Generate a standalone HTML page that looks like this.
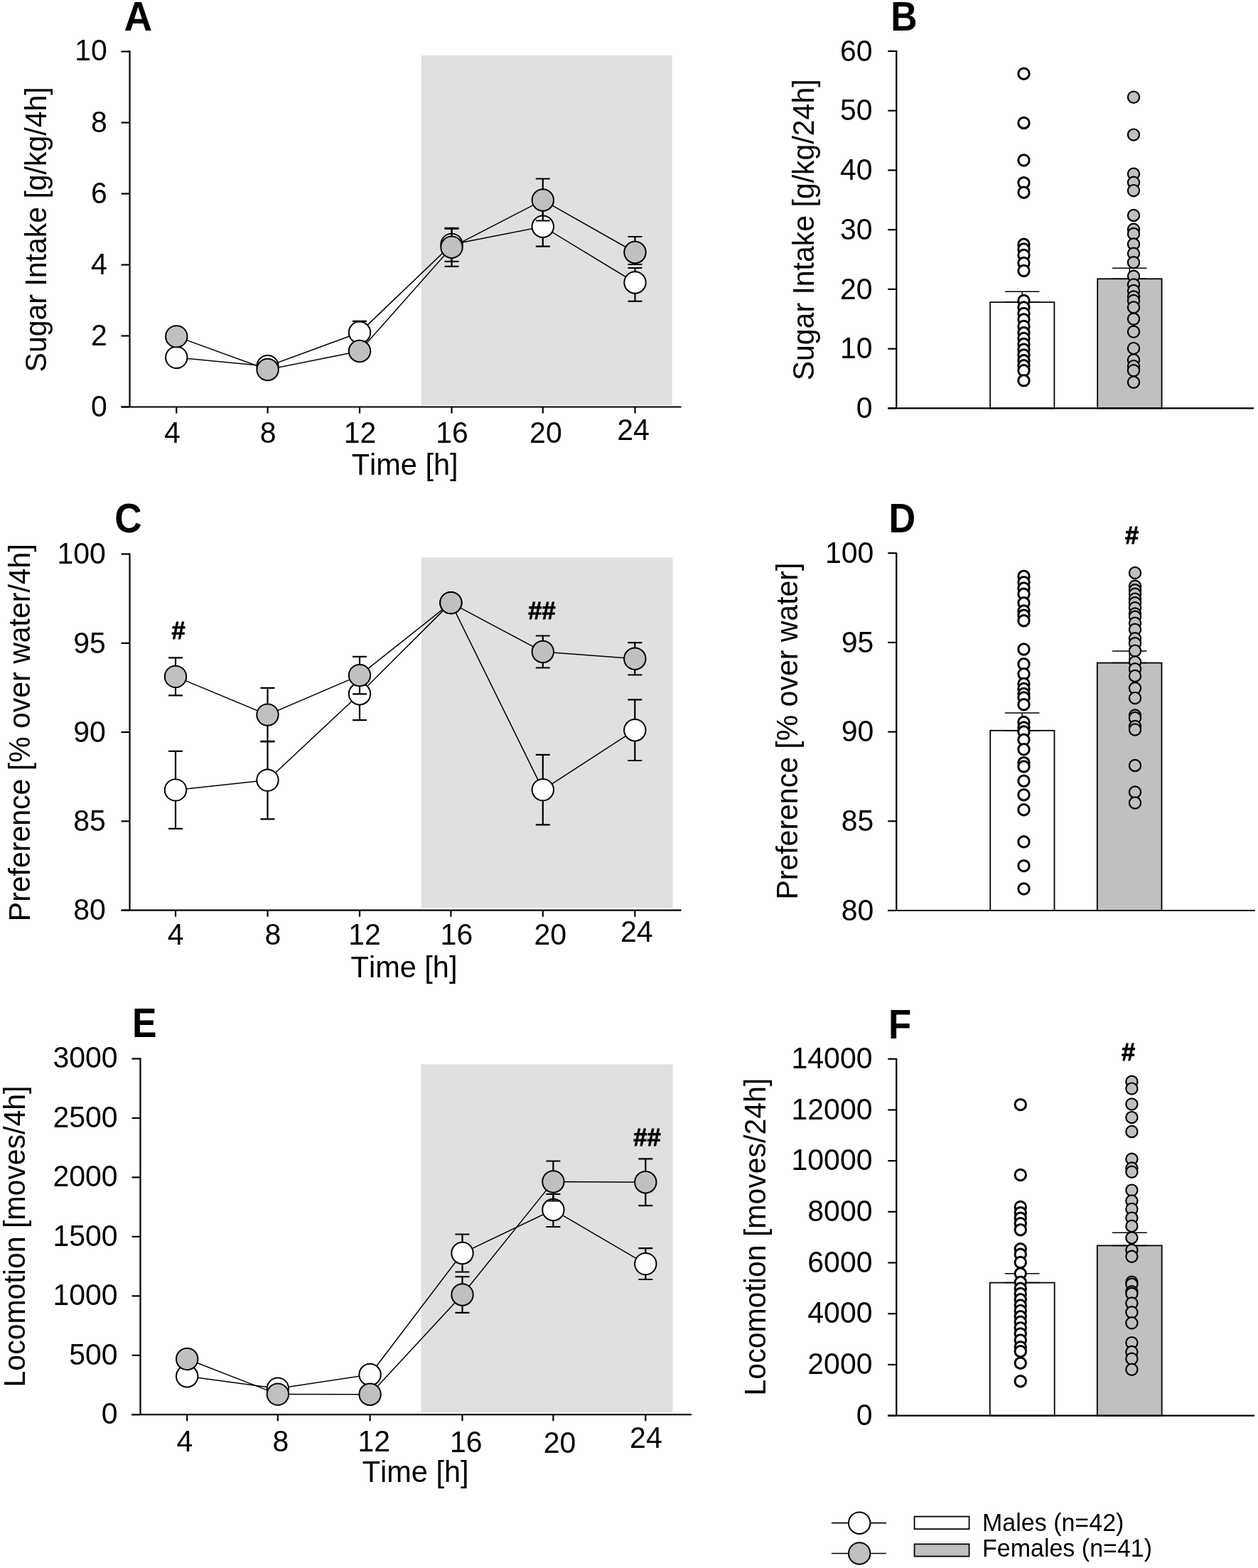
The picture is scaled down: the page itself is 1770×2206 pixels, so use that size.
<!DOCTYPE html><html><head><meta charset="utf-8"><title>Figure</title><style>html,body{margin:0;padding:0;background:#fff;}svg{display:block;}text{font-kerning:none;stroke:none;}</style></head><body>
<svg width="1770" height="2206" viewBox="0 0 1770 2206" font-family="'Liberation Sans', Arial, sans-serif" stroke="#000" fill="#000">
<rect x="0" y="0" width="1770" height="2206" fill="#fff" stroke="none"/>
<g id="A">
<rect x="593" y="78" width="352.5" height="492" fill="#e0e0e0" stroke="none"/>
<line x1="182.5" y1="71.0" x2="182.5" y2="572.5" stroke-width="2.2"/>
<line x1="170.5" y1="572.5" x2="182.5" y2="572.5" stroke-width="2.2"/>
<text x="150.9" y="586.2" font-size="42.68" text-anchor="end" textLength="22.80" lengthAdjust="spacingAndGlyphs">0</text>
<line x1="170.5" y1="472.5" x2="182.5" y2="472.5" stroke-width="2.2"/>
<text x="150.9" y="486.2" font-size="42.68" text-anchor="end" textLength="22.80" lengthAdjust="spacingAndGlyphs">2</text>
<line x1="170.5" y1="372.5" x2="182.5" y2="372.5" stroke-width="2.2"/>
<text x="150.9" y="386.2" font-size="42.68" text-anchor="end" textLength="22.80" lengthAdjust="spacingAndGlyphs">4</text>
<line x1="170.5" y1="272.5" x2="182.5" y2="272.5" stroke-width="2.2"/>
<text x="150.9" y="286.2" font-size="42.68" text-anchor="end" textLength="22.80" lengthAdjust="spacingAndGlyphs">6</text>
<line x1="170.5" y1="172.5" x2="182.5" y2="172.5" stroke-width="2.2"/>
<text x="150.9" y="186.2" font-size="42.68" text-anchor="end" textLength="22.80" lengthAdjust="spacingAndGlyphs">8</text>
<line x1="170.5" y1="72.5" x2="182.5" y2="72.5" stroke-width="2.2"/>
<text x="150.9" y="84.5" font-size="42.68" text-anchor="end" textLength="45.60" lengthAdjust="spacingAndGlyphs">10</text>
<line x1="170.5" y1="572.5" x2="958.5" y2="572.5" stroke-width="2.2"/>
<line x1="248.3" y1="572.5" x2="248.3" y2="581.5" stroke-width="2.2"/>
<line x1="376.6" y1="572.5" x2="376.6" y2="581.5" stroke-width="2.2"/>
<line x1="506.0" y1="572.5" x2="506.0" y2="581.5" stroke-width="2.2"/>
<line x1="635.5" y1="572.5" x2="635.5" y2="581.5" stroke-width="2.2"/>
<line x1="763.8" y1="572.5" x2="763.8" y2="581.5" stroke-width="2.2"/>
<line x1="893.5" y1="572.5" x2="893.5" y2="581.5" stroke-width="2.2"/>
<text x="242.4" y="623.4" font-size="42.68" text-anchor="middle" textLength="22.80" lengthAdjust="spacingAndGlyphs">4</text>
<text x="377.1" y="623.4" font-size="42.68" text-anchor="middle" textLength="22.80" lengthAdjust="spacingAndGlyphs">8</text>
<text x="506.6" y="623.4" font-size="42.68" text-anchor="middle" textLength="45.60" lengthAdjust="spacingAndGlyphs">12</text>
<text x="636.1" y="623.4" font-size="42.68" text-anchor="middle" textLength="45.60" lengthAdjust="spacingAndGlyphs">16</text>
<text x="767.9" y="623.4" font-size="42.68" text-anchor="middle" textLength="45.60" lengthAdjust="spacingAndGlyphs">20</text>
<text x="891.0" y="618.9" font-size="42.68" text-anchor="middle" textLength="45.60" lengthAdjust="spacingAndGlyphs">24</text>
<text x="494.7" y="667.5" font-size="42.68" text-anchor="start" textLength="149.86" lengthAdjust="spacingAndGlyphs">Time [h]</text>
<text x="174.5" y="43.2" font-size="57.25" text-anchor="start" font-weight="bold" textLength="39.72" lengthAdjust="spacingAndGlyphs">A</text>
<text x="0" y="0" transform="translate(65.4,322.9) rotate(-90)" font-size="42.68" text-anchor="middle" textLength="401.15" lengthAdjust="spacingAndGlyphs">Sugar Intake [g/kg/4h]</text>
<polyline points="248.3,502.9 376.6,515.3 506.0,467.8 635.5,343.9 763.8,318.7 893.5,397.5" fill="none" stroke-width="1.5"/>
<path d="M506.0 451.8V483.8M496.0 451.8h20M496.0 483.8h20" stroke-width="2.2" fill="none"/>
<path d="M635.5 321.9V367.9M625.5 321.9h20M625.5 367.9h20" stroke-width="2.2" fill="none"/>
<path d="M763.8 290.7V346.7M753.8 290.7h20M753.8 346.7h20" stroke-width="2.2" fill="none"/>
<path d="M893.5 377.0V423.8M883.5 377.0h20M883.5 423.8h20" stroke-width="2.2" fill="none"/>
<circle cx="248.3" cy="502.9" r="15.2" fill="#fff" stroke-width="2"/>
<circle cx="376.6" cy="515.3" r="15.2" fill="#fff" stroke-width="2"/>
<circle cx="506.0" cy="467.8" r="15.2" fill="#fff" stroke-width="2"/>
<circle cx="635.5" cy="343.9" r="15.2" fill="#fff" stroke-width="2"/>
<circle cx="763.8" cy="318.7" r="15.2" fill="#fff" stroke-width="2"/>
<circle cx="893.5" cy="397.5" r="15.2" fill="#fff" stroke-width="2"/>
<polyline points="248.3,473.4 376.6,520.0 506.0,494.0 635.5,347.8 763.8,281.5 893.5,355.0" fill="none" stroke-width="1.5"/>
<path d="M635.5 320.8V374.8M625.5 320.8h20M625.5 374.8h20" stroke-width="2.2" fill="none"/>
<path d="M763.8 251.5V310.5M753.8 251.5h20M753.8 310.5h20" stroke-width="2.2" fill="none"/>
<path d="M893.5 333.0V372.0M883.5 333.0h20M883.5 372.0h20" stroke-width="2.2" fill="none"/>
<circle cx="248.3" cy="473.4" r="15.2" fill="#c0c0c0" stroke-width="2"/>
<circle cx="376.6" cy="520.0" r="15.2" fill="#c0c0c0" stroke-width="2"/>
<circle cx="506.0" cy="494.0" r="15.2" fill="#c0c0c0" stroke-width="2"/>
<circle cx="635.5" cy="347.8" r="15.2" fill="#c0c0c0" stroke-width="2"/>
<circle cx="763.8" cy="281.5" r="15.2" fill="#c0c0c0" stroke-width="2"/>
<circle cx="893.5" cy="355.0" r="15.2" fill="#c0c0c0" stroke-width="2"/>
</g>
<g id="B">
<rect x="1393.2" y="425.2" width="90.2" height="149.2" fill="#fff" stroke-width="1.8"/>
<rect x="1544.2" y="392.3" width="90.4" height="182.1" fill="#c0c0c0" stroke-width="1.8"/>
<path d="M1438.3 410.2V425.2M1414.0 410.2h48.5M1414.0 425.2h48.5" stroke-width="1.5" fill="none"/>
<path d="M1589.3 377.3V392.3M1565.0 377.3h48.5M1565.0 392.3h48.5" stroke-width="1.5" fill="none"/>
<line x1="1261.3" y1="71.0" x2="1261.3" y2="574.4" stroke-width="2.2"/>
<line x1="1249.3" y1="574.4" x2="1261.3" y2="574.4" stroke-width="2.2"/>
<text x="1227.6" y="588.1" font-size="42.68" text-anchor="end" textLength="22.80" lengthAdjust="spacingAndGlyphs">0</text>
<line x1="1249.3" y1="490.7" x2="1261.3" y2="490.7" stroke-width="2.2"/>
<text x="1227.6" y="504.4" font-size="42.68" text-anchor="end" textLength="45.60" lengthAdjust="spacingAndGlyphs">10</text>
<line x1="1249.3" y1="406.9" x2="1261.3" y2="406.9" stroke-width="2.2"/>
<text x="1227.6" y="420.6" font-size="42.68" text-anchor="end" textLength="45.60" lengthAdjust="spacingAndGlyphs">20</text>
<line x1="1249.3" y1="323.2" x2="1261.3" y2="323.2" stroke-width="2.2"/>
<text x="1227.6" y="336.9" font-size="42.68" text-anchor="end" textLength="45.60" lengthAdjust="spacingAndGlyphs">30</text>
<line x1="1249.3" y1="239.5" x2="1261.3" y2="239.5" stroke-width="2.2"/>
<text x="1227.6" y="253.2" font-size="42.68" text-anchor="end" textLength="45.60" lengthAdjust="spacingAndGlyphs">40</text>
<line x1="1249.3" y1="155.7" x2="1261.3" y2="155.7" stroke-width="2.2"/>
<text x="1227.6" y="169.4" font-size="42.68" text-anchor="end" textLength="45.60" lengthAdjust="spacingAndGlyphs">50</text>
<line x1="1249.3" y1="72.0" x2="1261.3" y2="72.0" stroke-width="2.2"/>
<text x="1227.6" y="85.7" font-size="42.68" text-anchor="end" textLength="45.60" lengthAdjust="spacingAndGlyphs">60</text>
<line x1="1249.3" y1="574.4" x2="1764.0" y2="574.4" stroke-width="2.2"/>
<text x="1253.3" y="43.0" font-size="57.25" text-anchor="start" font-weight="bold" textLength="37.34" lengthAdjust="spacingAndGlyphs">B</text>
<text x="0" y="0" transform="translate(1145.3,323.4) rotate(-90)" font-size="42.68" text-anchor="middle" textLength="423.95" lengthAdjust="spacingAndGlyphs">Sugar Intake [g/kg/24h]</text>
<circle cx="1440.5" cy="103.7" r="7.699999999999999" fill="#fff" stroke-width="3"/>
<circle cx="1440.5" cy="172.9" r="7.699999999999999" fill="#fff" stroke-width="3"/>
<circle cx="1440.5" cy="225.5" r="7.699999999999999" fill="#fff" stroke-width="3"/>
<circle cx="1440.5" cy="257.1" r="7.699999999999999" fill="#fff" stroke-width="3"/>
<circle cx="1440.5" cy="270.7" r="7.699999999999999" fill="#fff" stroke-width="3"/>
<circle cx="1440.5" cy="343.8" r="7.699999999999999" fill="#fff" stroke-width="3"/>
<circle cx="1440.5" cy="350.4" r="7.699999999999999" fill="#fff" stroke-width="3"/>
<circle cx="1440.5" cy="359.0" r="7.699999999999999" fill="#fff" stroke-width="3"/>
<circle cx="1440.5" cy="370.0" r="7.699999999999999" fill="#fff" stroke-width="3"/>
<circle cx="1440.5" cy="380.9" r="7.699999999999999" fill="#fff" stroke-width="3"/>
<circle cx="1440.5" cy="423.0" r="7.699999999999999" fill="#fff" stroke-width="3"/>
<circle cx="1440.5" cy="432.4" r="7.699999999999999" fill="#fff" stroke-width="3"/>
<circle cx="1440.5" cy="441.0" r="7.699999999999999" fill="#fff" stroke-width="3"/>
<circle cx="1440.5" cy="449.5" r="7.699999999999999" fill="#fff" stroke-width="3"/>
<circle cx="1440.5" cy="458.9" r="7.699999999999999" fill="#fff" stroke-width="3"/>
<circle cx="1440.5" cy="468.3" r="7.699999999999999" fill="#fff" stroke-width="3"/>
<circle cx="1440.5" cy="476.0" r="7.699999999999999" fill="#fff" stroke-width="3"/>
<circle cx="1440.5" cy="483.9" r="7.699999999999999" fill="#fff" stroke-width="3"/>
<circle cx="1440.5" cy="491.7" r="7.699999999999999" fill="#fff" stroke-width="3"/>
<circle cx="1440.5" cy="499.5" r="7.699999999999999" fill="#fff" stroke-width="3"/>
<circle cx="1440.5" cy="507.3" r="7.699999999999999" fill="#fff" stroke-width="3"/>
<circle cx="1440.5" cy="514.3" r="7.699999999999999" fill="#fff" stroke-width="3"/>
<circle cx="1440.5" cy="521.3" r="7.699999999999999" fill="#fff" stroke-width="3"/>
<circle cx="1440.5" cy="535.4" r="7.699999999999999" fill="#fff" stroke-width="3"/>
<circle cx="1595.0" cy="136.7" r="8.1" fill="#c0c0c0" stroke-width="2.2"/>
<circle cx="1595.0" cy="189.6" r="8.1" fill="#c0c0c0" stroke-width="2.2"/>
<circle cx="1595.0" cy="244.7" r="8.1" fill="#c0c0c0" stroke-width="2.2"/>
<circle cx="1595.0" cy="256.8" r="8.1" fill="#c0c0c0" stroke-width="2.2"/>
<circle cx="1595.0" cy="268.1" r="8.1" fill="#c0c0c0" stroke-width="2.2"/>
<circle cx="1595.0" cy="302.9" r="8.1" fill="#c0c0c0" stroke-width="2.2"/>
<circle cx="1595.0" cy="322.7" r="8.1" fill="#c0c0c0" stroke-width="2.2"/>
<circle cx="1595.0" cy="329.0" r="8.1" fill="#c0c0c0" stroke-width="2.2"/>
<circle cx="1595.0" cy="343.4" r="8.1" fill="#c0c0c0" stroke-width="2.2"/>
<circle cx="1595.0" cy="356.7" r="8.1" fill="#c0c0c0" stroke-width="2.2"/>
<circle cx="1595.0" cy="369.2" r="8.1" fill="#c0c0c0" stroke-width="2.2"/>
<circle cx="1595.0" cy="388.7" r="8.1" fill="#c0c0c0" stroke-width="2.2"/>
<circle cx="1595.0" cy="400.4" r="8.1" fill="#c0c0c0" stroke-width="2.2"/>
<circle cx="1595.0" cy="409.0" r="8.1" fill="#c0c0c0" stroke-width="2.2"/>
<circle cx="1595.0" cy="417.5" r="8.1" fill="#c0c0c0" stroke-width="2.2"/>
<circle cx="1595.0" cy="423.0" r="8.1" fill="#c0c0c0" stroke-width="2.2"/>
<circle cx="1595.0" cy="432.4" r="8.1" fill="#c0c0c0" stroke-width="2.2"/>
<circle cx="1595.0" cy="448.8" r="8.1" fill="#c0c0c0" stroke-width="2.2"/>
<circle cx="1595.0" cy="466.7" r="8.1" fill="#c0c0c0" stroke-width="2.2"/>
<circle cx="1595.0" cy="490.1" r="8.1" fill="#c0c0c0" stroke-width="2.2"/>
<circle cx="1595.0" cy="506.5" r="8.1" fill="#c0c0c0" stroke-width="2.2"/>
<circle cx="1595.0" cy="515.1" r="8.1" fill="#c0c0c0" stroke-width="2.2"/>
<circle cx="1595.0" cy="521.3" r="8.1" fill="#c0c0c0" stroke-width="2.2"/>
<circle cx="1595.0" cy="537.7" r="8.1" fill="#c0c0c0" stroke-width="2.2"/>
</g>
<g id="C">
<rect x="593" y="784.4" width="353.5" height="493" fill="#e0e0e0" stroke="none"/>
<line x1="182.5" y1="778.5" x2="182.5" y2="1280.7" stroke-width="2.2"/>
<line x1="170.5" y1="1280.7" x2="182.5" y2="1280.7" stroke-width="2.2"/>
<text x="148.9" y="1294.4" font-size="42.68" text-anchor="end" textLength="45.60" lengthAdjust="spacingAndGlyphs">80</text>
<line x1="170.5" y1="1155.4" x2="182.5" y2="1155.4" stroke-width="2.2"/>
<text x="148.9" y="1169.1" font-size="42.68" text-anchor="end" textLength="45.60" lengthAdjust="spacingAndGlyphs">85</text>
<line x1="170.5" y1="1030.1" x2="182.5" y2="1030.1" stroke-width="2.2"/>
<text x="148.9" y="1043.8" font-size="42.68" text-anchor="end" textLength="45.60" lengthAdjust="spacingAndGlyphs">90</text>
<line x1="170.5" y1="904.8" x2="182.5" y2="904.8" stroke-width="2.2"/>
<text x="148.9" y="918.5" font-size="42.68" text-anchor="end" textLength="45.60" lengthAdjust="spacingAndGlyphs">95</text>
<line x1="170.5" y1="779.5" x2="182.5" y2="779.5" stroke-width="2.2"/>
<text x="148.9" y="793.2" font-size="42.68" text-anchor="end" textLength="68.41" lengthAdjust="spacingAndGlyphs">100</text>
<line x1="170.5" y1="1280.7" x2="958.5" y2="1280.7" stroke-width="2.2"/>
<line x1="247.0" y1="1280.7" x2="247.0" y2="1289.7" stroke-width="2.2"/>
<line x1="376.5" y1="1280.7" x2="376.5" y2="1289.7" stroke-width="2.2"/>
<line x1="506.0" y1="1280.7" x2="506.0" y2="1289.7" stroke-width="2.2"/>
<line x1="634.4" y1="1280.7" x2="634.4" y2="1289.7" stroke-width="2.2"/>
<line x1="763.8" y1="1280.7" x2="763.8" y2="1289.7" stroke-width="2.2"/>
<line x1="893.3" y1="1280.7" x2="893.3" y2="1289.7" stroke-width="2.2"/>
<text x="247.1" y="1329.4" font-size="42.68" text-anchor="middle" textLength="22.80" lengthAdjust="spacingAndGlyphs">4</text>
<text x="383.8" y="1329.4" font-size="42.68" text-anchor="middle" textLength="22.80" lengthAdjust="spacingAndGlyphs">8</text>
<text x="513.0" y="1329.4" font-size="42.68" text-anchor="middle" textLength="45.60" lengthAdjust="spacingAndGlyphs">12</text>
<text x="642.4" y="1329.4" font-size="42.68" text-anchor="middle" textLength="45.60" lengthAdjust="spacingAndGlyphs">16</text>
<text x="774.2" y="1329.4" font-size="42.68" text-anchor="middle" textLength="45.60" lengthAdjust="spacingAndGlyphs">20</text>
<text x="895.8" y="1324.8" font-size="42.68" text-anchor="middle" textLength="45.60" lengthAdjust="spacingAndGlyphs">24</text>
<text x="493.6" y="1375.2" font-size="42.68" text-anchor="start" textLength="149.86" lengthAdjust="spacingAndGlyphs">Time [h]</text>
<text x="161.2" y="749.4" font-size="57.25" text-anchor="start" font-weight="bold" textLength="38.33" lengthAdjust="spacingAndGlyphs">C</text>
<text x="0" y="0" transform="translate(42.1,1030.7) rotate(-90)" font-size="42.68" text-anchor="middle" textLength="530.98" lengthAdjust="spacingAndGlyphs">Preference [% over water/4h]</text>
<polyline points="247.0,1111.4 376.5,1097.6 506.0,976.2 634.4,848.1 763.8,1111.1 893.3,1027.2" fill="none" stroke-width="1.5"/>
<path d="M247.0 1056.9V1165.9M237.0 1056.9h20M237.0 1165.9h20" stroke-width="2.2" fill="none"/>
<path d="M376.5 1042.9V1152.3M366.5 1042.9h20M366.5 1152.3h20" stroke-width="2.2" fill="none"/>
<path d="M506.0 939.2V1013.2M496.0 939.2h20M496.0 1013.2h20" stroke-width="2.2" fill="none"/>
<path d="M763.8 1061.8V1160.4M753.8 1061.8h20M753.8 1160.4h20" stroke-width="2.2" fill="none"/>
<path d="M893.3 984.4V1070.0M883.3 984.4h20M883.3 1070.0h20" stroke-width="2.2" fill="none"/>
<circle cx="247.0" cy="1111.4" r="15.2" fill="#fff" stroke-width="2"/>
<circle cx="376.5" cy="1097.6" r="15.2" fill="#fff" stroke-width="2"/>
<circle cx="506.0" cy="976.2" r="15.2" fill="#fff" stroke-width="2"/>
<circle cx="634.4" cy="848.1" r="15.2" fill="#fff" stroke-width="2"/>
<circle cx="763.8" cy="1111.1" r="15.2" fill="#fff" stroke-width="2"/>
<circle cx="893.3" cy="1027.2" r="15.2" fill="#fff" stroke-width="2"/>
<polyline points="247.0,951.9 376.5,1005.6 506.0,950.1 634.4,848.1 763.8,917.0 893.3,926.8" fill="none" stroke-width="1.5"/>
<path d="M247.0 925.4V978.4M237.0 925.4h20M237.0 978.4h20" stroke-width="2.2" fill="none"/>
<path d="M376.5 967.8V1043.4M366.5 967.8h20M366.5 1043.4h20" stroke-width="2.2" fill="none"/>
<path d="M506.0 923.9V976.3M496.0 923.9h20M496.0 976.3h20" stroke-width="2.2" fill="none"/>
<path d="M763.8 894.5V939.5M753.8 894.5h20M753.8 939.5h20" stroke-width="2.2" fill="none"/>
<path d="M893.3 904.1V949.5M883.3 904.1h20M883.3 949.5h20" stroke-width="2.2" fill="none"/>
<circle cx="247.0" cy="951.9" r="15.2" fill="#c0c0c0" stroke-width="2"/>
<circle cx="376.5" cy="1005.6" r="15.2" fill="#c0c0c0" stroke-width="2"/>
<circle cx="506.0" cy="950.1" r="15.2" fill="#c0c0c0" stroke-width="2"/>
<circle cx="634.4" cy="848.1" r="15.2" fill="#c0c0c0" stroke-width="2"/>
<circle cx="763.8" cy="917.0" r="15.2" fill="#c0c0c0" stroke-width="2"/>
<circle cx="893.3" cy="926.8" r="15.2" fill="#c0c0c0" stroke-width="2"/>
<text x="251.0" y="898.5" font-size="35.91" text-anchor="middle" font-weight="bold" textLength="19.19" lengthAdjust="spacingAndGlyphs" style="stroke:#000;stroke-width:0.9px">#</text>
<text x="762.5" y="871.0" font-size="35.91" text-anchor="middle" font-weight="bold" textLength="38.37" lengthAdjust="spacingAndGlyphs" style="stroke:#000;stroke-width:0.9px">##</text>
</g>
<g id="D">
<rect x="1393.3" y="1027.8" width="90.2" height="253.2" fill="#fff" stroke-width="1.8"/>
<rect x="1543.8" y="932.6" width="90.7" height="348.4" fill="#c0c0c0" stroke-width="1.8"/>
<path d="M1438.2 1003.1V1027.8M1414.0 1003.1h48.5M1414.0 1027.8h48.5" stroke-width="1.5" fill="none"/>
<path d="M1589.2 916.1V932.6M1565.0 916.1h48.5M1565.0 932.6h48.5" stroke-width="1.5" fill="none"/>
<line x1="1261.3" y1="777.5" x2="1261.3" y2="1281.0" stroke-width="2.2"/>
<line x1="1249.3" y1="1281.0" x2="1261.3" y2="1281.0" stroke-width="2.2"/>
<text x="1229.3" y="1294.7" font-size="42.68" text-anchor="end" textLength="45.60" lengthAdjust="spacingAndGlyphs">80</text>
<line x1="1249.3" y1="1155.3" x2="1261.3" y2="1155.3" stroke-width="2.2"/>
<text x="1229.3" y="1169.0" font-size="42.68" text-anchor="end" textLength="45.60" lengthAdjust="spacingAndGlyphs">85</text>
<line x1="1249.3" y1="1029.6" x2="1261.3" y2="1029.6" stroke-width="2.2"/>
<text x="1229.3" y="1043.3" font-size="42.68" text-anchor="end" textLength="45.60" lengthAdjust="spacingAndGlyphs">90</text>
<line x1="1249.3" y1="903.9" x2="1261.3" y2="903.9" stroke-width="2.2"/>
<text x="1229.3" y="917.6" font-size="42.68" text-anchor="end" textLength="45.60" lengthAdjust="spacingAndGlyphs">95</text>
<line x1="1249.3" y1="778.2" x2="1261.3" y2="778.2" stroke-width="2.2"/>
<text x="1229.3" y="791.9" font-size="42.68" text-anchor="end" textLength="68.41" lengthAdjust="spacingAndGlyphs">100</text>
<line x1="1249.3" y1="1281.0" x2="1766.0" y2="1281.0" stroke-width="2.2"/>
<text x="1250.6" y="749.4" font-size="57.25" text-anchor="start" font-weight="bold" textLength="37.73" lengthAdjust="spacingAndGlyphs">D</text>
<text x="1592.6" y="764.5" font-size="35.91" text-anchor="middle" font-weight="bold" textLength="19.19" lengthAdjust="spacingAndGlyphs" style="stroke:#000;stroke-width:0.9px">#</text>
<text x="0" y="0" transform="translate(1122.0,1028.6) rotate(-90)" font-size="42.68" text-anchor="middle" textLength="473.98" lengthAdjust="spacingAndGlyphs">Preference [% over water]</text>
<circle cx="1440.5" cy="810.8" r="7.699999999999999" fill="#fff" stroke-width="3"/>
<circle cx="1440.5" cy="819.1" r="7.699999999999999" fill="#fff" stroke-width="3"/>
<circle cx="1440.5" cy="827.5" r="7.699999999999999" fill="#fff" stroke-width="3"/>
<circle cx="1440.5" cy="835.8" r="7.699999999999999" fill="#fff" stroke-width="3"/>
<circle cx="1440.5" cy="848.3" r="7.699999999999999" fill="#fff" stroke-width="3"/>
<circle cx="1440.5" cy="859.4" r="7.699999999999999" fill="#fff" stroke-width="3"/>
<circle cx="1440.5" cy="865.6" r="7.699999999999999" fill="#fff" stroke-width="3"/>
<circle cx="1440.5" cy="873.2" r="7.699999999999999" fill="#fff" stroke-width="3"/>
<circle cx="1440.5" cy="913.5" r="7.699999999999999" fill="#fff" stroke-width="3"/>
<circle cx="1440.5" cy="934.3" r="7.699999999999999" fill="#fff" stroke-width="3"/>
<circle cx="1440.5" cy="948.2" r="7.699999999999999" fill="#fff" stroke-width="3"/>
<circle cx="1440.5" cy="962.0" r="7.699999999999999" fill="#fff" stroke-width="3"/>
<circle cx="1440.5" cy="969.0" r="7.699999999999999" fill="#fff" stroke-width="3"/>
<circle cx="1440.5" cy="975.9" r="7.699999999999999" fill="#fff" stroke-width="3"/>
<circle cx="1440.5" cy="981.5" r="7.699999999999999" fill="#fff" stroke-width="3"/>
<circle cx="1440.5" cy="991.2" r="7.699999999999999" fill="#fff" stroke-width="3"/>
<circle cx="1440.5" cy="1016.0" r="7.699999999999999" fill="#fff" stroke-width="3"/>
<circle cx="1440.5" cy="1023.5" r="7.699999999999999" fill="#fff" stroke-width="3"/>
<circle cx="1440.5" cy="1029.5" r="7.699999999999999" fill="#fff" stroke-width="3"/>
<circle cx="1440.5" cy="1040.8" r="7.699999999999999" fill="#fff" stroke-width="3"/>
<circle cx="1440.5" cy="1054.3" r="7.699999999999999" fill="#fff" stroke-width="3"/>
<circle cx="1440.5" cy="1073.1" r="7.699999999999999" fill="#fff" stroke-width="3"/>
<circle cx="1440.5" cy="1078.4" r="7.699999999999999" fill="#fff" stroke-width="3"/>
<circle cx="1440.5" cy="1098.7" r="7.699999999999999" fill="#fff" stroke-width="3"/>
<circle cx="1440.5" cy="1118.2" r="7.699999999999999" fill="#fff" stroke-width="3"/>
<circle cx="1440.5" cy="1139.2" r="7.699999999999999" fill="#fff" stroke-width="3"/>
<circle cx="1440.5" cy="1184.3" r="7.699999999999999" fill="#fff" stroke-width="3"/>
<circle cx="1440.5" cy="1218.1" r="7.699999999999999" fill="#fff" stroke-width="3"/>
<circle cx="1440.5" cy="1250.5" r="7.699999999999999" fill="#fff" stroke-width="3"/>
<circle cx="1597.0" cy="806.0" r="8.1" fill="#c0c0c0" stroke-width="2.2"/>
<circle cx="1597.0" cy="824.7" r="8.1" fill="#c0c0c0" stroke-width="2.2"/>
<circle cx="1597.0" cy="830.2" r="8.1" fill="#c0c0c0" stroke-width="2.2"/>
<circle cx="1597.0" cy="835.8" r="8.1" fill="#c0c0c0" stroke-width="2.2"/>
<circle cx="1597.0" cy="842.7" r="8.1" fill="#c0c0c0" stroke-width="2.2"/>
<circle cx="1597.0" cy="848.3" r="8.1" fill="#c0c0c0" stroke-width="2.2"/>
<circle cx="1597.0" cy="855.2" r="8.1" fill="#c0c0c0" stroke-width="2.2"/>
<circle cx="1597.0" cy="863.5" r="8.1" fill="#c0c0c0" stroke-width="2.2"/>
<circle cx="1597.0" cy="867.7" r="8.1" fill="#c0c0c0" stroke-width="2.2"/>
<circle cx="1597.0" cy="876.7" r="8.1" fill="#c0c0c0" stroke-width="2.2"/>
<circle cx="1597.0" cy="885.7" r="8.1" fill="#c0c0c0" stroke-width="2.2"/>
<circle cx="1597.0" cy="898.2" r="8.1" fill="#c0c0c0" stroke-width="2.2"/>
<circle cx="1597.0" cy="905.2" r="8.1" fill="#c0c0c0" stroke-width="2.2"/>
<circle cx="1597.0" cy="915.6" r="8.1" fill="#c0c0c0" stroke-width="2.2"/>
<circle cx="1597.0" cy="931.5" r="8.1" fill="#c0c0c0" stroke-width="2.2"/>
<circle cx="1597.0" cy="941.2" r="8.1" fill="#c0c0c0" stroke-width="2.2"/>
<circle cx="1597.0" cy="950.9" r="8.1" fill="#c0c0c0" stroke-width="2.2"/>
<circle cx="1597.0" cy="968.3" r="8.1" fill="#c0c0c0" stroke-width="2.2"/>
<circle cx="1597.0" cy="982.1" r="8.1" fill="#c0c0c0" stroke-width="2.2"/>
<circle cx="1597.0" cy="1006.4" r="8.1" fill="#c0c0c0" stroke-width="2.2"/>
<circle cx="1597.0" cy="1010.0" r="8.1" fill="#c0c0c0" stroke-width="2.2"/>
<circle cx="1597.0" cy="1022.0" r="8.1" fill="#c0c0c0" stroke-width="2.2"/>
<circle cx="1597.0" cy="1026.5" r="8.1" fill="#c0c0c0" stroke-width="2.2"/>
<circle cx="1597.0" cy="1076.9" r="8.1" fill="#c0c0c0" stroke-width="2.2"/>
<circle cx="1597.0" cy="1114.4" r="8.1" fill="#c0c0c0" stroke-width="2.2"/>
<circle cx="1597.0" cy="1129.5" r="8.1" fill="#c0c0c0" stroke-width="2.2"/>
</g>
<g id="E">
<rect x="592.5" y="1497.3" width="354" height="490.1" fill="#e0e0e0" stroke="none"/>
<line x1="197.5" y1="1488.5" x2="197.5" y2="1990.2" stroke-width="2.2"/>
<line x1="185.5" y1="1990.2" x2="197.5" y2="1990.2" stroke-width="2.2"/>
<text x="165.6" y="2002.9" font-size="42.68" text-anchor="end" textLength="22.80" lengthAdjust="spacingAndGlyphs">0</text>
<line x1="185.5" y1="1906.8" x2="197.5" y2="1906.8" stroke-width="2.2"/>
<text x="165.6" y="1919.5" font-size="42.68" text-anchor="end" textLength="68.41" lengthAdjust="spacingAndGlyphs">500</text>
<line x1="185.5" y1="1823.3" x2="197.5" y2="1823.3" stroke-width="2.2"/>
<text x="165.6" y="1836.0" font-size="42.68" text-anchor="end" textLength="91.21" lengthAdjust="spacingAndGlyphs">1000</text>
<line x1="185.5" y1="1739.8" x2="197.5" y2="1739.8" stroke-width="2.2"/>
<text x="165.6" y="1752.5" font-size="42.68" text-anchor="end" textLength="91.21" lengthAdjust="spacingAndGlyphs">1500</text>
<line x1="185.5" y1="1656.4" x2="197.5" y2="1656.4" stroke-width="2.2"/>
<text x="165.6" y="1669.1" font-size="42.68" text-anchor="end" textLength="91.21" lengthAdjust="spacingAndGlyphs">2000</text>
<line x1="185.5" y1="1573.0" x2="197.5" y2="1573.0" stroke-width="2.2"/>
<text x="165.6" y="1585.7" font-size="42.68" text-anchor="end" textLength="91.21" lengthAdjust="spacingAndGlyphs">2500</text>
<line x1="185.5" y1="1489.5" x2="197.5" y2="1489.5" stroke-width="2.2"/>
<text x="165.6" y="1502.2" font-size="42.68" text-anchor="end" textLength="91.21" lengthAdjust="spacingAndGlyphs">3000</text>
<line x1="185.2" y1="1990.2" x2="973.0" y2="1990.2" stroke-width="2.2"/>
<line x1="263.2" y1="1990.2" x2="263.2" y2="1999.2" stroke-width="2.2"/>
<line x1="390.9" y1="1990.2" x2="390.9" y2="1999.2" stroke-width="2.2"/>
<line x1="520.6" y1="1990.2" x2="520.6" y2="1999.2" stroke-width="2.2"/>
<line x1="650.5" y1="1990.2" x2="650.5" y2="1999.2" stroke-width="2.2"/>
<line x1="778.4" y1="1990.2" x2="778.4" y2="1999.2" stroke-width="2.2"/>
<line x1="908.3" y1="1990.2" x2="908.3" y2="1999.2" stroke-width="2.2"/>
<text x="260.0" y="2042.4" font-size="42.68" text-anchor="middle" textLength="22.80" lengthAdjust="spacingAndGlyphs">4</text>
<text x="395.0" y="2042.4" font-size="42.68" text-anchor="middle" textLength="22.80" lengthAdjust="spacingAndGlyphs">8</text>
<text x="526.3" y="2042.4" font-size="42.68" text-anchor="middle" textLength="45.60" lengthAdjust="spacingAndGlyphs">12</text>
<text x="655.7" y="2042.9" font-size="42.68" text-anchor="middle" textLength="45.60" lengthAdjust="spacingAndGlyphs">16</text>
<text x="787.5" y="2044.4" font-size="42.68" text-anchor="middle" textLength="45.60" lengthAdjust="spacingAndGlyphs">20</text>
<text x="908.9" y="2036.9" font-size="42.68" text-anchor="middle" textLength="45.60" lengthAdjust="spacingAndGlyphs">24</text>
<text x="509.7" y="2085.2" font-size="42.68" text-anchor="start" textLength="149.86" lengthAdjust="spacingAndGlyphs">Time [h]</text>
<text x="186.0" y="1459.0" font-size="57.25" text-anchor="start" font-weight="bold" textLength="34.48" lengthAdjust="spacingAndGlyphs">E</text>
<text x="0" y="0" transform="translate(35.2,1739.5) rotate(-90)" font-size="42.68" text-anchor="middle" textLength="423.89" lengthAdjust="spacingAndGlyphs">Locomotion [moves/4h]</text>
<polyline points="263.2,1936.3 390.9,1953.6 520.6,1934.0 650.5,1763.0 778.4,1702.0 908.3,1778.1" fill="none" stroke-width="1.5"/>
<path d="M650.5 1736.5V1789.5M640.5 1736.5h20M640.5 1789.5h20" stroke-width="2.2" fill="none"/>
<path d="M778.4 1680.0V1726.0M768.4 1680.0h20M768.4 1726.0h20" stroke-width="2.2" fill="none"/>
<path d="M908.3 1756.2V1800.0M898.3 1756.2h20M898.3 1800.0h20" stroke-width="2.2" fill="none"/>
<circle cx="263.2" cy="1936.3" r="15.2" fill="#fff" stroke-width="2"/>
<circle cx="390.9" cy="1953.6" r="15.2" fill="#fff" stroke-width="2"/>
<circle cx="520.6" cy="1934.0" r="15.2" fill="#fff" stroke-width="2"/>
<circle cx="650.5" cy="1763.0" r="15.2" fill="#fff" stroke-width="2"/>
<circle cx="778.4" cy="1702.0" r="15.2" fill="#fff" stroke-width="2"/>
<circle cx="908.3" cy="1778.1" r="15.2" fill="#fff" stroke-width="2"/>
<polyline points="263.2,1912.0 390.9,1961.6 520.6,1961.8 650.5,1821.5 778.4,1662.5 908.3,1663.2" fill="none" stroke-width="1.5"/>
<path d="M650.5 1796.1V1846.9M640.5 1796.1h20M640.5 1846.9h20" stroke-width="2.2" fill="none"/>
<path d="M778.4 1633.5V1689.5M768.4 1633.5h20M768.4 1689.5h20" stroke-width="2.2" fill="none"/>
<path d="M908.3 1630.3V1696.1M898.3 1630.3h20M898.3 1696.1h20" stroke-width="2.2" fill="none"/>
<circle cx="263.2" cy="1912.0" r="15.2" fill="#c0c0c0" stroke-width="2"/>
<circle cx="390.9" cy="1961.6" r="15.2" fill="#c0c0c0" stroke-width="2"/>
<circle cx="520.6" cy="1961.8" r="15.2" fill="#c0c0c0" stroke-width="2"/>
<circle cx="650.5" cy="1821.5" r="15.2" fill="#c0c0c0" stroke-width="2"/>
<circle cx="778.4" cy="1662.5" r="15.2" fill="#c0c0c0" stroke-width="2"/>
<circle cx="908.3" cy="1663.2" r="15.2" fill="#c0c0c0" stroke-width="2"/>
<text x="910.5" y="1611.5" font-size="35.91" text-anchor="middle" font-weight="bold" textLength="38.37" lengthAdjust="spacingAndGlyphs" style="stroke:#000;stroke-width:0.9px">##</text>
</g>
<g id="F">
<rect x="1392.8" y="1804.6" width="90.9" height="187.0" fill="#fff" stroke-width="1.8"/>
<rect x="1543.8" y="1752.4" width="90.9" height="239.2" fill="#c0c0c0" stroke-width="1.8"/>
<path d="M1438.2 1791.8V1804.6M1413.8 1791.8h48.8M1413.8 1804.6h48.8" stroke-width="1.5" fill="none"/>
<path d="M1589.3 1734.2V1752.4M1564.9 1734.2h48.8M1564.9 1752.4h48.8" stroke-width="1.5" fill="none"/>
<line x1="1261.3" y1="1489.0" x2="1261.3" y2="1991.6" stroke-width="2.2"/>
<line x1="1249.3" y1="1991.6" x2="1261.3" y2="1991.6" stroke-width="2.2"/>
<text x="1227.5" y="2004.8" font-size="42.68" text-anchor="end" textLength="22.80" lengthAdjust="spacingAndGlyphs">0</text>
<line x1="1249.3" y1="1919.9" x2="1261.3" y2="1919.9" stroke-width="2.2"/>
<text x="1227.5" y="1933.1" font-size="42.68" text-anchor="end" textLength="91.21" lengthAdjust="spacingAndGlyphs">2000</text>
<line x1="1249.3" y1="1848.2" x2="1261.3" y2="1848.2" stroke-width="2.2"/>
<text x="1227.5" y="1861.4" font-size="42.68" text-anchor="end" textLength="91.21" lengthAdjust="spacingAndGlyphs">4000</text>
<line x1="1249.3" y1="1776.5" x2="1261.3" y2="1776.5" stroke-width="2.2"/>
<text x="1227.5" y="1789.7" font-size="42.68" text-anchor="end" textLength="91.21" lengthAdjust="spacingAndGlyphs">6000</text>
<line x1="1249.3" y1="1704.8" x2="1261.3" y2="1704.8" stroke-width="2.2"/>
<text x="1227.5" y="1718.0" font-size="42.68" text-anchor="end" textLength="91.21" lengthAdjust="spacingAndGlyphs">8000</text>
<line x1="1249.3" y1="1633.1" x2="1261.3" y2="1633.1" stroke-width="2.2"/>
<text x="1227.5" y="1646.3" font-size="42.68" text-anchor="end" textLength="114.01" lengthAdjust="spacingAndGlyphs">10000</text>
<line x1="1249.3" y1="1561.5" x2="1261.3" y2="1561.5" stroke-width="2.2"/>
<text x="1227.5" y="1574.7" font-size="42.68" text-anchor="end" textLength="114.01" lengthAdjust="spacingAndGlyphs">12000</text>
<line x1="1249.3" y1="1489.8" x2="1261.3" y2="1489.8" stroke-width="2.2"/>
<text x="1227.5" y="1503.0" font-size="42.68" text-anchor="end" textLength="114.01" lengthAdjust="spacingAndGlyphs">14000</text>
<line x1="1249.3" y1="1991.6" x2="1765.0" y2="1991.6" stroke-width="2.2"/>
<text x="1250.0" y="1460.7" font-size="57.25" text-anchor="start" font-weight="bold" textLength="32.25" lengthAdjust="spacingAndGlyphs">F</text>
<text x="1587.5" y="1492.3" font-size="35.91" text-anchor="middle" font-weight="bold" textLength="19.19" lengthAdjust="spacingAndGlyphs" style="stroke:#000;stroke-width:0.9px">#</text>
<text x="0" y="0" transform="translate(1077.0,1740.1) rotate(-90)" font-size="42.68" text-anchor="middle" textLength="446.70" lengthAdjust="spacingAndGlyphs">Locomotion [moves/24h]</text>
<circle cx="1435.8" cy="1554.1" r="7.699999999999999" fill="#fff" stroke-width="3"/>
<circle cx="1435.8" cy="1653.0" r="7.699999999999999" fill="#fff" stroke-width="3"/>
<circle cx="1435.8" cy="1697.9" r="7.699999999999999" fill="#fff" stroke-width="3"/>
<circle cx="1435.8" cy="1706.1" r="7.699999999999999" fill="#fff" stroke-width="3"/>
<circle cx="1435.8" cy="1713.6" r="7.699999999999999" fill="#fff" stroke-width="3"/>
<circle cx="1435.8" cy="1721.2" r="7.699999999999999" fill="#fff" stroke-width="3"/>
<circle cx="1435.8" cy="1730.2" r="7.699999999999999" fill="#fff" stroke-width="3"/>
<circle cx="1435.8" cy="1757.2" r="7.699999999999999" fill="#fff" stroke-width="3"/>
<circle cx="1435.8" cy="1764.7" r="7.699999999999999" fill="#fff" stroke-width="3"/>
<circle cx="1435.8" cy="1776.0" r="7.699999999999999" fill="#fff" stroke-width="3"/>
<circle cx="1435.8" cy="1791.8" r="7.699999999999999" fill="#fff" stroke-width="3"/>
<circle cx="1435.8" cy="1803.8" r="7.699999999999999" fill="#fff" stroke-width="3"/>
<circle cx="1435.8" cy="1812.8" r="7.699999999999999" fill="#fff" stroke-width="3"/>
<circle cx="1435.8" cy="1820.0" r="7.699999999999999" fill="#fff" stroke-width="3"/>
<circle cx="1435.8" cy="1828.3" r="7.699999999999999" fill="#fff" stroke-width="3"/>
<circle cx="1435.8" cy="1836.5" r="7.699999999999999" fill="#fff" stroke-width="3"/>
<circle cx="1435.8" cy="1844.0" r="7.699999999999999" fill="#fff" stroke-width="3"/>
<circle cx="1435.8" cy="1852.3" r="7.699999999999999" fill="#fff" stroke-width="3"/>
<circle cx="1435.8" cy="1859.8" r="7.699999999999999" fill="#fff" stroke-width="3"/>
<circle cx="1435.8" cy="1868.1" r="7.699999999999999" fill="#fff" stroke-width="3"/>
<circle cx="1435.8" cy="1876.4" r="7.699999999999999" fill="#fff" stroke-width="3"/>
<circle cx="1435.8" cy="1885.4" r="7.699999999999999" fill="#fff" stroke-width="3"/>
<circle cx="1435.8" cy="1895.1" r="7.699999999999999" fill="#fff" stroke-width="3"/>
<circle cx="1435.8" cy="1901.2" r="7.699999999999999" fill="#fff" stroke-width="3"/>
<circle cx="1435.8" cy="1917.7" r="7.699999999999999" fill="#fff" stroke-width="3"/>
<circle cx="1435.8" cy="1943.2" r="7.699999999999999" fill="#fff" stroke-width="3"/>
<circle cx="1592.4" cy="1521.8" r="8.1" fill="#c0c0c0" stroke-width="2.2"/>
<circle cx="1592.4" cy="1531.6" r="8.1" fill="#c0c0c0" stroke-width="2.2"/>
<circle cx="1592.4" cy="1553.4" r="8.1" fill="#c0c0c0" stroke-width="2.2"/>
<circle cx="1592.4" cy="1572.1" r="8.1" fill="#c0c0c0" stroke-width="2.2"/>
<circle cx="1592.4" cy="1592.0" r="8.1" fill="#c0c0c0" stroke-width="2.2"/>
<circle cx="1592.4" cy="1630.7" r="8.1" fill="#c0c0c0" stroke-width="2.2"/>
<circle cx="1592.4" cy="1643.5" r="8.1" fill="#c0c0c0" stroke-width="2.2"/>
<circle cx="1592.4" cy="1648.8" r="8.1" fill="#c0c0c0" stroke-width="2.2"/>
<circle cx="1592.4" cy="1674.6" r="8.1" fill="#c0c0c0" stroke-width="2.2"/>
<circle cx="1592.4" cy="1689.6" r="8.1" fill="#c0c0c0" stroke-width="2.2"/>
<circle cx="1592.4" cy="1700.9" r="8.1" fill="#c0c0c0" stroke-width="2.2"/>
<circle cx="1592.4" cy="1713.6" r="8.1" fill="#c0c0c0" stroke-width="2.2"/>
<circle cx="1592.4" cy="1724.9" r="8.1" fill="#c0c0c0" stroke-width="2.2"/>
<circle cx="1592.4" cy="1741.4" r="8.1" fill="#c0c0c0" stroke-width="2.2"/>
<circle cx="1592.4" cy="1758.7" r="8.1" fill="#c0c0c0" stroke-width="2.2"/>
<circle cx="1592.4" cy="1767.7" r="8.1" fill="#c0c0c0" stroke-width="2.2"/>
<circle cx="1592.4" cy="1803.8" r="8.1" fill="#c0c0c0" stroke-width="2.2"/>
<circle cx="1592.4" cy="1806.8" r="8.1" fill="#c0c0c0" stroke-width="2.2"/>
<circle cx="1592.4" cy="1817.3" r="8.1" fill="#c0c0c0" stroke-width="2.2"/>
<circle cx="1592.4" cy="1820.0" r="8.1" fill="#c0c0c0" stroke-width="2.2"/>
<circle cx="1592.4" cy="1833.5" r="8.1" fill="#c0c0c0" stroke-width="2.2"/>
<circle cx="1592.4" cy="1846.3" r="8.1" fill="#c0c0c0" stroke-width="2.2"/>
<circle cx="1592.4" cy="1861.3" r="8.1" fill="#c0c0c0" stroke-width="2.2"/>
<circle cx="1592.4" cy="1889.1" r="8.1" fill="#c0c0c0" stroke-width="2.2"/>
<circle cx="1592.4" cy="1901.9" r="8.1" fill="#c0c0c0" stroke-width="2.2"/>
<circle cx="1592.4" cy="1911.7" r="8.1" fill="#c0c0c0" stroke-width="2.2"/>
<circle cx="1592.4" cy="1926.7" r="8.1" fill="#c0c0c0" stroke-width="2.2"/>
</g>
<g id="legend">
<line x1="1170.0" y1="2142.7" x2="1247.0" y2="2142.7" stroke-width="1.7"/>
<circle cx="1209.2" cy="2142.7" r="15.2" fill="#fff" stroke-width="2"/>
<line x1="1170.0" y1="2185.5" x2="1247.0" y2="2185.5" stroke-width="1.7"/>
<circle cx="1209.2" cy="2185.5" r="15.2" fill="#c0c0c0" stroke-width="2"/>
<rect x="1286.6" y="2133.6" width="77" height="17.6" fill="#fff" stroke-width="1.8"/>
<rect x="1286.6" y="2172.4" width="77" height="17.2" fill="#c0c0c0" stroke-width="1.8"/>
<text x="1382.0" y="2153.8" font-size="35.39" text-anchor="start" textLength="199.37" lengthAdjust="spacingAndGlyphs">Males (n=42)</text>
<text x="1382.0" y="2189.8" font-size="35.39" text-anchor="start" textLength="239.05" lengthAdjust="spacingAndGlyphs">Females (n=41)</text>
</g>
</svg></body></html>
